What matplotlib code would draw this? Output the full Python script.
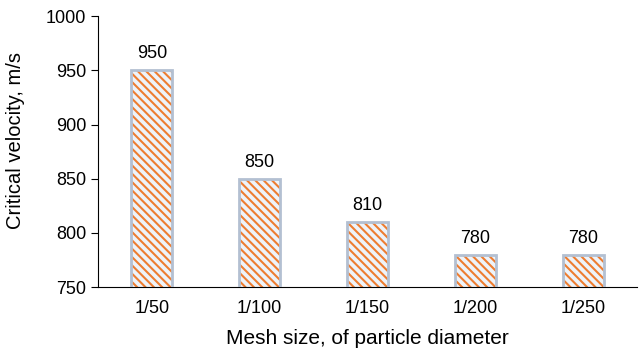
import matplotlib
matplotlib.use("Agg")
import matplotlib.pyplot as plt
import numpy as np

mesh = ['1/50', '1/100', '1/150', '1/200', '1/250']
velocity = [950, 850, 810, 780, 780]

plt.rcParams['font.family'] = ['Liberation Sans', 'DejaVu Sans']
plt.rcParams['hatch.linewidth'] = 1.5

fig = plt.figure(figsize=(6.39, 3.51), dpi=100)
ax = fig.add_axes([0.1534, 0.182, 0.8435, 0.772])

x = np.arange(len(mesh))
# hatch layer (orange), then grey-blue outline on top
ax.bar(x, velocity, width=0.38, bottom=0, color='#eef3f9', edgecolor='#ED7D31',
       hatch='\\\\\\\\', linewidth=0, zorder=2)
ax.bar(x, velocity, width=0.38, bottom=0, facecolor='none', edgecolor='#b3c0d2',
       linewidth=2, zorder=3)

for xi, v in zip(x, velocity):
    ax.annotate(str(v), (xi, v), xytext=(0, 8.6), textcoords='offset points',
                ha='center', va='baseline', fontsize=13)

ax.set_ylim(750, 1000)
ax.set_xlim(-0.5, 4.5)
ax.set_yticks([750, 800, 850, 900, 950, 1000])
ax.set_xticks(x)
ax.set_xticklabels(mesh)
ax.tick_params(axis='x', length=0, pad=9, labelsize=13)
ax.tick_params(axis='y', direction='out', length=5, labelsize=13)
ax.spines['top'].set_visible(False)
ax.spines['right'].set_visible(False)
ax.set_xlabel('Mesh size, of particle diameter', fontsize=15, labelpad=9)
ax.set_ylabel('Critical velocity, m/s', fontsize=14.5)
ax.yaxis.set_label_coords(-0.135, 0.54)

fig.savefig('out.png', dpi=100)
